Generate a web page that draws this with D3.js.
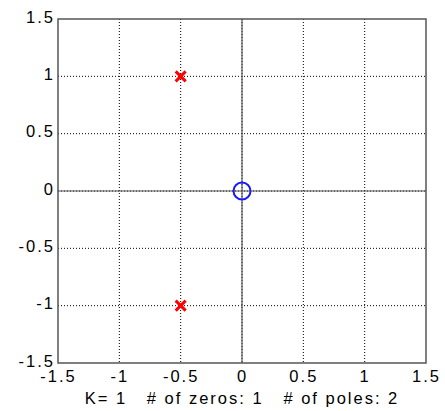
<!DOCTYPE html>
<html>
<head>
<meta charset="utf-8">
<script src="https://cdn.jsdelivr.net/npm/d3@7"></script>
<style>
  body { margin: 0; background: #fff; }
  text { font-family: "Liberation Sans", Arial, sans-serif; }
</style>
</head>
<body>
<svg id="chart" width="445" height="411"></svg>
<script>
// pole / zero data
var zerosRe = [0];
var zerosIm = [0];
var polesRe = [-0.5, -0.5];
var polesIm = [1, -1];
var gain = 1;
var tickValues = [-1.5, -1, -0.5, 0, 0.5, 1, 1.5];

var svg = d3.select('#chart');
var margin = { top: 19, right: 19, bottom: 48, left: 58 };
var width = +svg.attr('width') - margin.left - margin.right,
  height = +svg.attr('height') - margin.top - margin.bottom;

var x = d3.scaleLinear().domain([-1.5, 1.5]).range([0, width]);
var y = d3.scaleLinear().domain([-1.5, 1.5]).range([height, 0]);

var g = svg.append('g')
  .attr('transform', 'translate(' + margin.left + ',' + margin.top + ')');

// dotted grid
g.selectAll('.gx').data(tickValues.slice(1, -1)).enter().append('line')
  .attr('x1', function(d) { return x(d); })
  .attr('x2', function(d) { return x(d); })
  .attr('y1', 0).attr('y2', height)
  .attr('stroke', '#000').attr('stroke-width', 1)
  .attr('stroke-dasharray', '1,2');
g.selectAll('.gy').data(tickValues.slice(1, -1)).enter().append('line')
  .attr('y1', function(d) { return y(d); })
  .attr('y2', function(d) { return y(d); })
  .attr('x1', 0).attr('x2', width)
  .attr('stroke', '#000').attr('stroke-width', 1)
  .attr('stroke-dasharray', '1,2');

// real and imaginary axes
g.append('line')
  .attr('x1', 0).attr('x2', width)
  .attr('y1', y(0)).attr('y2', y(0))
  .attr('stroke', '#555').attr('stroke-width', 1.2);
g.append('line')
  .attr('x1', x(0)).attr('x2', x(0))
  .attr('y1', 0).attr('y2', height)
  .attr('stroke', '#555').attr('stroke-width', 1.2);

// frame
g.append('rect')
  .attr('width', width).attr('height', height)
  .attr('fill', 'none').attr('stroke', '#555').attr('stroke-width', 1.5);

// tick labels (plain hyphen minus, like matlab)
var fmt = function(d) { return String(d); };
var xAxis = g.append('g')
  .attr('transform', 'translate(0,' + height + ')')
  .call(d3.axisBottom(x).tickValues(tickValues).tickSize(0).tickPadding(7)
    .tickFormat(fmt));
xAxis.select('.domain').remove();
xAxis.selectAll('text').attr('font-size', 16.5).attr('fill', '#000')
  .attr('letter-spacing', 2)
  .attr('font-family', '"Liberation Sans", Arial, sans-serif');

var yAxis = g.append('g')
  .call(d3.axisLeft(y).tickValues(tickValues).tickSize(0).tickPadding(3)
    .tickFormat(fmt));
yAxis.select('.domain').remove();
yAxis.selectAll('text').attr('font-size', 16.5).attr('fill', '#000')
  .attr('letter-spacing', 2)
  .attr('dy', '0.2em')
  .attr('font-family', '"Liberation Sans", Arial, sans-serif');

// zeros
g.selectAll('.zero').data(zerosRe).enter().append('circle')
  .attr('cx', function(d) { return x(d); })
  .attr('cy', function(d, i) { return y(zerosIm[i]); })
  .attr('r', 8.5)
  .attr('fill', 'none').attr('stroke', '#1a1aff').attr('stroke-width', 2);

// poles
var s = 5;
g.selectAll('.pole').data(polesRe).enter().append('path')
  .attr('d', function(d, i) {
    var px = x(d), py = y(polesIm[i]);
    return 'M' + (px - s) + ',' + (py - s) + 'L' + (px + s) + ',' + (py + s) +
      'M' + (px - s) + ',' + (py + s) + 'L' + (px + s) + ',' + (py - s);
  })
  .attr('stroke', '#ff0000').attr('stroke-width', 3);

svg.append('text')
  .attr('x', margin.left + x(0))
  .attr('y', 404)
  .attr('text-anchor', 'middle')
  .attr('font-size', 16.5)
  .attr('letter-spacing', 2)
  .attr('xml:space', 'preserve')
  .style('white-space', 'pre')
  .text('K= ' + gain + '   # of zeros: ' + zerosRe.length + '   # of poles: ' + polesRe.length);
</script>
</body>
</html>
